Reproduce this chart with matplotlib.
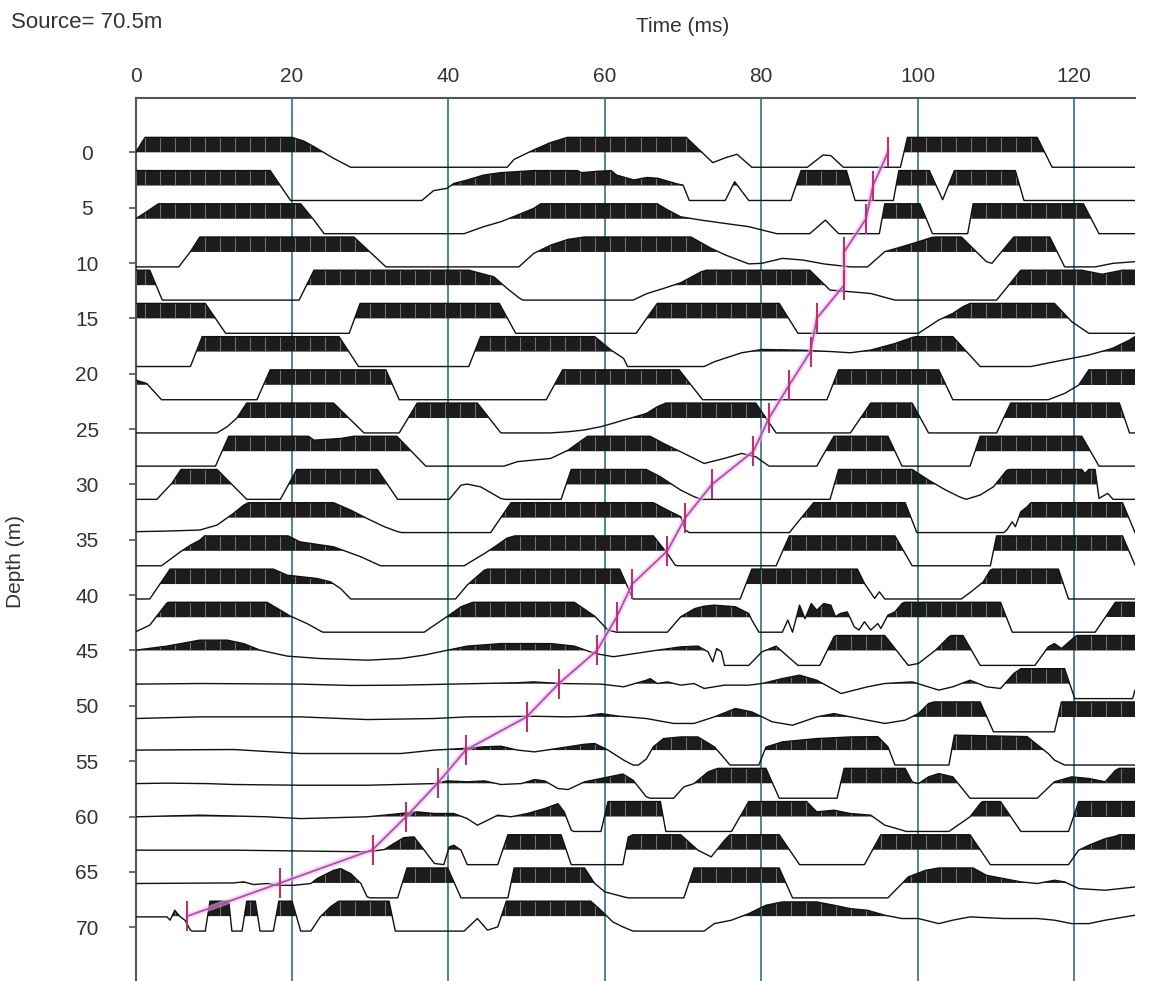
import numpy as np
import matplotlib.pyplot as plt
from matplotlib.path import Path

plt.rcParams['font.family'] = ['Liberation Sans', 'DejaVu Sans']

# receiver depths (m) of the 24 traces
depths = [0, 3, 6, 9, 12, 15, 18, 21, 24, 27, 30, 33,
          36, 39, 42, 45, 48, 51, 54, 57, 60, 63, 66, 69]

# trace vertices: (time ms, normalised amplitude, clipped to +-1)
trace_d00 = [(0, 0), (1.2, 1), (20, 1), (21.5, 0.75), (22.8, 0.38), (25.3, -0.4), (27.5, -1), (47.5, -1),
             (48.4, -0.47), (50.9, 0.16), (53, 0.64), (55.2, 1), (70.4, 1), (73.8, -0.69), (75.5, -0.35),
             (76.9, -0.13), (78.8, -1), (85.9, -1), (87.9, -0.18), (88.9, -0.22), (90.5, -1), (97.8, -1),
             (98.7, 1), (115.3, 1), (117.2, -1), (127.8, -1)]
trace_d03 = [(0, 1), (17.2, 1), (19.8, -1), (36.6, -1), (38.1, -0.34), (39.8, -0.19), (40.7, 0.14),
             (42.4, 0.37), (44.5, 0.7), (46.7, 0.86), (50.9, 1), (56.5, 1), (57, 0.86), (59, 0.95),
             (60.8, 1), (61.5, 0.7), (63.7, 0.37), (65.4, 0.54), (66.8, 0.48), (69.3, 0.1), (70, 0.03),
             (70.8, -1), (75.4, -1), (76.6, 0.26), (78.4, -1), (83.8, -1), (85.1, 1), (90.9, 1), (92, -1),
             (96.9, -1), (97.6, 1), (101.5, 1), (103.2, -0.95), (104.7, 1), (112.5, 1), (113.6, -1),
             (127.8, -1)]
trace_d06 = [(0, 0), (1.4, 0.47), (2.9, 1), (21.1, 1), (22.8, -0.09), (24.1, -1), (42, -1), (44.5, -0.53),
             (46.7, -0.2), (48.8, 0.24), (50.9, 0.69), (51.8, 1), (66.7, 1), (68, 0.6), (69.7, 0.13),
             (72.3, -0.09), (75.3, -0.31), (78.4, -0.53), (81, -0.87), (82, -1), (86.2, -1), (88.2, -0.09),
             (89.9, -1), (95.1, -1), (95.8, 1), (100.3, 1), (101.9, -1), (106.4, -1), (107.1, 1),
             (121.2, 1), (123.2, -1), (127.8, -1)]
trace_d09 = [(0, -1), (5.5, -1), (7, 0.02), (8.2, 1), (27.9, 1), (32, -1), (49, -1), (50.9, -0.1),
             (53.1, 0.46), (55.3, 0.84), (57.4, 1), (71, 1), (73.6, 0.24), (75.4, -0.2), (78.4, -0.8),
             (80.1, -0.76), (82.7, -0.43), (85.3, -0.54), (88, -0.8), (91.4, -1), (93.6, -1), (95.8, 0.02),
             (98, 0.35), (100.1, 0.68), (101.8, 0.97), (102.3, 1), (105.6, 1), (108.8, -0.65),
             (109.5, -0.76), (112.3, 1), (116.9, 1), (118.8, -1), (122.7, -1), (125, -0.76), (127.8, -0.65)]
trace_d12 = [(0, 1), (1.8, 1), (3.4, -1), (20.9, -1), (22.8, 1), (42.6, 1), (45.8, 0.56), (47.5, -0.22),
             (49, -0.84), (49.5, -1), (63.6, -1), (65.4, -0.56), (67.5, -0.22), (69.7, 0.16), (72.3, 0.89),
             (73, 1), (86.2, 1), (88.8, -0.33), (91.4, -0.44), (94, -0.56), (97.1, -1), (110.1, -1),
             (113.2, 1), (121, 1), (123.6, 0.73), (126.2, 1), (127.8, 1)]
trace_d15 = [(0, 1), (8.9, 1), (11.5, -1), (27.3, -1), (28.7, 1), (46.5, 1), (48.6, -1), (64, -1),
             (66.7, 1), (82.3, 1), (84.7, -1), (100.1, -1), (102.7, -0.11), (104.5, 0.33), (105.8, 0.78),
             (106.7, 1), (117.5, 1), (119.7, -0.22), (121.9, -1), (127.8, -1)]
trace_d18 = [(0, -1), (7, -1), (8.5, 1), (26, 1), (28.5, -1), (42.6, -1), (44.1, 1), (58.7, 1), (60.8, 0.1),
             (62.4, -0.46), (62.9, -1), (72.7, -1), (74, -0.68), (77.5, -0.08), (80.1, 0.14), (84.9, 0.1),
             (89.3, -0.01), (91.4, -0.08), (94, 0.1), (97.1, 0.54), (99.3, 0.94), (99.8, 1), (104.5, 1),
             (108, -1), (114.5, -1), (117.5, -0.68), (121.9, -0.23), (124.9, 0.21), (127.1, 0.77),
             (127.8, 1)]
trace_d21 = [(0, 0.31), (1.4, 0.09), (3.3, -1), (15.5, -1), (17.2, 1), (32, 1), (33.7, -1), (52.5, -1),
             (54.6, 1), (69.5, 1), (72.5, -1), (88.4, -1), (89.9, 1), (102.7, 1), (104.5, -1), (116.7, -1),
             (118.8, -0.58), (120.6, -0.02), (121.9, 1), (127.8, 1)]
trace_d24 = [(0, -1), (10.4, -1), (11.7, -0.58), (12.9, -0.03), (14.2, 1), (25.3, 1), (29.2, -1),
             (33.7, -1), (36, 1), (43.7, 1), (46.7, -1), (53, -1), (55.3, -0.92), (57.4, -0.8),
             (59.5, -0.58), (61, -0.36), (62.4, -0.14), (63.6, 0.04), (65.3, 0.3), (66.7, 0.75), (67.8, 1),
             (79.3, 1), (81.9, -1), (91.4, -1), (94, 1), (99.3, 1), (101.4, -1), (110.1, -1), (111.9, 1),
             (125.8, 1), (127.1, -1), (127.8, -1)]
trace_d27 = [(0, -1), (10.2, -1), (11.9, 1), (22.1, 1), (22.8, 0.74), (26.2, 0.85), (27.9, 1), (33.4, 1),
             (37.1, -1), (47.1, -1), (48.8, -0.7), (53.1, -0.48), (55.3, 0.07), (56.5, 0.52), (57.8, 1),
             (65.8, 1), (67.5, 0.52), (69.7, -0.04), (72.7, -0.82), (75.3, -0.48), (77.5, -0.15),
             (79.3, -0.37), (81, -1), (87.1, -1), (89.3, 1), (96.2, 1), (98, -1), (106.7, -1), (108, 1),
             (121, 1), (123.2, -1), (127.8, -1)]
trace_d30 = [(0, -1), (2.7, -1), (4.6, 0.06), (5.8, 1), (10.4, 1), (14.2, -1), (18.5, -1), (20.6, 1),
             (30.9, 1), (33.5, -1), (40.1, -1), (41.6, -0.05), (42.4, 0.02), (44.1, -0.16), (46.7, -0.94),
             (47.2, -1), (54.4, -1), (55.7, 1), (65.3, 1), (67.1, 0.51), (69.7, -0.38), (71.4, -0.82),
             (72.3, -1), (88.8, -1), (89.9, 1), (99.3, 1), (101.4, 0.29), (103.6, -0.38), (105.3, -0.82),
             (106.2, -1), (108, -0.71), (109.7, -0.16), (111.4, 0.95), (111.8, 1), (121, 1), (121.4, 0.73),
             (121.9, 1), (122.7, 1), (123.2, -0.94), (124.3, -0.6), (125, -1), (127.8, -1)]
trace_d33 = [(0, -0.94), (4, -0.9), (8.2, -0.83), (10.4, -0.5), (12.5, 0.28), (13.8, 0.83), (14.4, 1),
             (25.3, 1), (27.5, 0.5), (29.6, -0.06), (31.8, -0.61), (33.5, -0.94), (34, -1), (45.4, -1),
             (48, 1), (66.2, 1), (68, 0.5), (69.7, 0.06), (70.3, -0.83), (70.8, -1), (83.6, -1), (86.7, 1),
             (98.4, 1), (99.9, -1), (111, -1), (111.4, -0.83), (112.1, -0.28), (112.5, -0.61),
             (113.2, 0.39), (114, 0.72), (114.5, 1), (126.2, 1), (127.8, -1)]
trace_d36 = [(0, -1), (3.3, -1), (4, -0.73), (5.7, -0.07), (7, 0.38), (8.2, 0.71), (8.8, 1), (19.5, 1),
             (21, 0.6), (25.3, 0.27), (28.8, -0.4), (31.3, -1), (42, -1), (44.6, -0.18), (46, 0.3),
             (47.5, 0.85), (48.5, 1), (66.2, 1), (68, -0.18), (69, -0.96), (69.3, -1), (81.9, -1),
             (83.6, 1), (97.1, 1), (99.3, -1), (109.3, -1), (110.1, 1), (126.2, 1), (127.8, -0.96)]
trace_d39 = [(0, -1), (1.8, -1), (4.4, 1), (17.6, 1), (19.4, 0.59), (23.2, 0.37), (24.9, 0.15),
             (26.2, -0.3), (27.5, -1), (40.9, -1), (42.4, -0.07), (44.6, 0.93), (45, 1), (61.9, 1),
             (63.6, -1), (77.3, -1), (78.8, 1), (92.3, 1), (93.2, 0.04), (94.5, -0.96), (95.1, -0.52),
             (95.8, -1), (105.6, -1), (107.1, -0.41), (108.4, 0.15), (109.3, 0.93), (109.6, 1), (118, 1),
             (119.3, -1), (127.8, -1)]
trace_d42 = [(0, -0.97), (1.8, -0.53), (4, 0.96), (4.2, 1), (16.8, 1), (19.8, 0.07), (21.9, -0.42),
             (23.8, -0.97), (24, -1), (36.9, -1), (38.2, -0.53), (39.9, 0.07), (41.6, 0.7), (42.9, 0.96),
             (43.2, 1), (56.1, 1), (58.7, 0.07), (60.4, -0.86), (61.5, -1), (68, -1), (69.7, 0.03),
             (71.5, 0.58), (72.7, 0.74), (74, 0.81), (76.7, 0.7), (78.4, 0.25), (78.8, -0.19), (79.7, -1),
             (82.7, -1), (83.4, -0.19), (84, -1), (84.9, 0.81), (85.6, -0.1), (86.4, 0.92), (87.1, 0.47),
             (88, 0.92), (88.9, 0.81), (89.5, 0.03), (90.1, 0.25), (91, 0.36), (91.9, -0.64),
             (92.5, -0.86), (93.2, -0.3), (94, -0.86), (94.9, -0.42), (95.3, -0.75), (96.2, 0.14),
             (97.1, 0.36), (98, 0.92), (98.3, 1), (110.6, 1), (112.1, -1), (122.7, -1), (125.3, 1),
             (127.8, 1)]
trace_d45 = [(0, 0.02), (4, 0.29), (8.2, 0.69), (11.7, 0.69), (13.8, 0.46), (15.9, 0.02), (19.4, -0.38),
             (23.6, -0.54), (29.6, -0.65), (33.9, -0.54), (36.9, -0.31), (39.9, 0.02), (42.4, 0.29),
             (46.7, 0.46), (53.1, 0.46), (56.1, 0.29), (58.7, -0.2), (61.1, -0.42), (65.3, -0.09),
             (69.7, 0.24), (71.9, 0.29), (73.2, -0.09), (73.8, -0.76), (74.3, 0.13), (74.9, -0.09),
             (75.3, -1), (78.4, -1), (80.1, -0.09), (81.9, 0.29), (83.2, -0.31), (84.7, -1), (87.5, -1),
             (89.3, 0.91), (89.6, 1), (95.8, 1), (98.8, -1), (100.1, -0.87), (102.3, 0.02), (104, 0.91),
             (104.3, 1), (105.8, 1), (108, -1), (115, -1), (116.7, 0.24), (117.5, 0.46), (118.4, 0.13),
             (120.1, 0.91), (120.4, 1), (127.8, 1)]
trace_d48 = [(0, -0.03), (8.2, 0.01), (21.1, -0.03), (27.5, -0.12), (33.9, -0.1), (40.3, -0.03),
             (48.8, 0.06), (50.9, 0.12), (52.7, 0.06), (54.4, 0.01), (59.5, -0.03), (62.4, -0.21),
             (65.3, 0.23), (65.8, 0.34), (66.7, 0.01), (68, 0.12), (69.7, -0.1), (71.4, 0.01),
             (72.7, -0.32), (75.3, -0.1), (78.4, -0.1), (80.1, 0.01), (82.7, 0.34), (84.9, 0.57),
             (87.1, 0.23), (90.2, -0.66), (93.6, -0.21), (95.8, 0.01), (99.3, 0.12), (102.7, -0.43),
             (104.5, -0.21), (106.7, 0.23), (108.8, -0.21), (110.6, -0.32), (112.3, 0.68), (113.2, 1),
             (118.8, 1), (120.1, -1), (127.5, -1), (127.8, -0.43)]
trace_d51 = [(0, -0.11), (8.2, 0), (21.1, 0), (29.6, -0.18), (38.2, -0.11), (42.4, 0), (51, 0.04),
             (55.3, 0), (57.4, 0.04), (59.5, 0.22), (61.7, 0.05), (65.3, -0.11), (68.8, -0.44),
             (71.4, -0.44), (74, 0), (76.7, 0.56), (78.8, 0.33), (81.4, -0.33), (84, -0.56), (87.1, 0),
             (89.3, 0.22), (91.4, 0), (95.8, -0.44), (98.4, -0.22), (100.1, 0.22), (101.4, 0.89),
             (102.1, 1), (108, 1), (109.7, -1), (117.5, -1), (118.4, 1), (127.8, 1)]
trace_d54 = [(0, 0), (12.5, 0.04), (21.1, -0.23), (33.9, -0.23), (38.2, 0), (41.6, 0.1), (44.6, 0.22),
             (46.7, 0.26), (48.8, 0), (51, -0.12), (55.3, 0.22), (57.4, 0.39), (58.7, 0.44), (60.4, 0),
             (62.4, -0.67), (63.6, -1), (64.3, -1), (65.3, -0.6), (66.2, 0.22), (67.5, 0.77), (69.7, 0.88),
             (71.9, 0.88), (74, 0.22), (75.3, -0.56), (76, -1), (79.7, -1), (80.6, 0.2), (82.7, 0.55),
             (87.1, 0.77), (91.4, 0.88), (94.9, 0.9), (96.2, 0.22), (97.1, -1), (104, -1), (104.7, 1),
             (114, 0.9), (116.7, -0.23), (117.5, -0.67), (118.8, -1), (127.8, -1)]
trace_d57 = [(0, -0.02), (4, 0.01), (9.1, -0.02), (12.5, -0.08), (21.1, -0.13), (29.6, -0.13),
             (38.2, -0.02), (39.9, 0.16), (42.4, 0.1), (44.6, 0.16), (46.7, -0.08), (49.3, -0.02),
             (51, 0.25), (52.3, 0.16), (54, -0.35), (55.3, -0.42), (57.4, 0.1), (59.5, 0.32), (62.3, 0.62),
             (63.6, 0.21), (65.3, -0.9), (65.8, -1), (68.8, -1), (70.1, -0.24), (71.4, -0.02), (73.2, 0.76),
             (74, 0.92), (74.5, 1), (80.6, 1), (82.3, -1), (89.7, -1), (90.6, 1), (98.4, 1), (99.3, 0.1),
             (100.1, -0.02), (101.4, 0.43), (102.7, 0.65), (104.5, 0.43), (106.7, -1), (115.3, -1),
             (117.5, 0.1), (119.7, 0.43), (121.9, 0.32), (124, 0.1), (125.3, 0.87), (125.8, 1), (127.8, 1)]
trace_d60 = [(0, -0.02), (8.2, 0.09), (16.8, -0.02), (21.1, -0.14), (29.6, -0.02), (31.8, 0.09),
             (33.9, 0.2), (36, 0.31), (38.2, 0.2), (40.7, 0.2), (42.4, -0.14), (43.7, -0.58), (45, -0.25),
             (46.3, 0.09), (48, -0.02), (50.1, 0.2), (52.3, 0.53), (54, 0.86), (54.8, 0.31), (55.7, -0.91),
             (56, -1), (59.5, -1), (60.4, 1), (67.1, 1), (67.8, -1), (76.2, -1), (78.4, 1), (85.8, 1),
             (87.1, 0.31), (89.3, 0.42), (91.4, 0.2), (94, 0.09), (95.8, -0.58), (98, -0.91), (98.5, -1),
             (104, -1), (106.7, -0.02), (108, 0.86), (108.3, 1), (110.6, 1), (113.2, -1), (119.3, -1),
             (120.6, 1), (127.8, 1)]
trace_d63 = [(0, -0.03), (12.5, -0.03), (29.6, -0.14), (31.8, 0.01), (33, 0.41), (34.3, 0.81),
             (35.6, 0.86), (36.9, -0.03), (38.2, -0.92), (39.4, -1), (40.1, 0.19), (40.7, 0.3),
             (41.6, -0.03), (42.4, -1), (46.3, -1), (47.6, 1), (54.4, 1), (55.7, -1), (62.3, -1),
             (63, 0.86), (63.6, 1), (69.7, 1), (71.9, -0.03), (73.6, -0.48), (75.3, 0.63), (76, 1),
             (82.3, 1), (84.9, -1), (93.2, -1), (95.3, 1), (106.7, 1), (109.3, -1), (119.3, -1),
             (120.6, -0.03), (121.9, 0.3), (124, 0.74), (125.3, 0.9), (125.8, 1), (127.8, 1)]
trace_d66 = [(0, -0.04), (12.5, 0), (13.8, 0.07), (15.1, -0.11), (16.8, -0.04), (18.1, -0.16),
             (20.2, -0.16), (22.4, -0.04), (23.2, 0.29), (25.3, 0.84), (26.2, 0.96), (27.5, 0.62),
             (28.8, -0.04), (29.6, -0.93), (30, -1), (33.5, -1), (34.7, 1), (39.9, 1), (41.6, -1),
             (47.6, -1), (48.4, 1), (57.4, 1), (58.7, -0.04), (60, -0.6), (62.4, -0.93), (63, -1),
             (70.1, -1), (71.4, 1), (82.3, 1), (84, -1), (96.2, -1), (98, -0.04), (98.8, 0.4), (101, 0.84),
             (102.7, 1), (107.1, 1), (108.8, 0.51), (111, 0.29), (113.2, 0.07), (115.3, -0.04),
             (117.5, 0.18), (118.8, 0.07), (120.6, -0.38), (124, -0.49), (127.8, -0.27)]
trace_d69 = [(0, -0.05), (4, -0.05), (4.4, -0.27), (5, 0.39), (5.7, -0.05), (6.3, -0.27), (7, -0.94),
             (7.2, -1), (8.9, -1), (9.5, 1), (11.9, 1), (12.3, -1), (13.6, -1), (14.2, 1), (15.3, 1),
             (15.9, -1), (17.6, -1), (18.3, 1), (20, 1), (21.1, -1), (22.4, -1), (23.6, -0.05),
             (24.9, 0.62), (25.8, 0.95), (26, 1), (32.4, 1), (33.2, -1), (42, -1), (43.7, -0.16),
             (45, -0.94), (46.3, -0.72), (47.4, 1), (58.2, 1), (59.5, 0.39), (61, -0.38), (62.3, -0.72),
             (63.6, -1), (72.7, -1), (74, -0.5), (76.2, -0.27), (78.4, 0.17), (80.6, 0.73), (82.7, 0.95),
             (87.1, 0.95), (89.3, 0.73), (91.4, 0.5), (93.6, 0.39), (95.8, 0.06), (98, -0.16),
             (100.1, -0.16), (102.7, -0.5), (104.5, -0.27), (106.7, -0.05), (111, -0.16), (115.3, -0.16),
             (117.5, -0.27), (119.7, -0.5), (121.9, -0.5), (124, -0.27), (127.8, 0.06)]

traces = [trace_d00, trace_d03, trace_d06, trace_d09, trace_d12, trace_d15, trace_d18, trace_d21,
          trace_d24, trace_d27, trace_d30, trace_d33, trace_d36, trace_d39, trace_d42, trace_d45,
          trace_d48, trace_d51, trace_d54, trace_d57, trace_d60, trace_d63, trace_d66, trace_d69]

# first-break picks
pick_depth = [0, 3, 6, 9, 12, 15, 18, 21, 24, 27, 30, 33, 36, 39, 42, 45, 48, 51, 54, 57, 60, 63, 66, 69]
pick_time = [96.2, 94.3, 93.4, 90.6, 90.6, 87.1, 86.3, 83.6, 81.0, 79.0, 73.7, 70.3,
             68.0, 63.5, 61.5, 59.0, 54.1, 50.0, 42.2, 38.6, 34.6, 30.3, 18.5, 6.6]

time_ticks = [0, 20, 40, 60, 80, 100, 120]
depth_ticks = [0, 5, 10, 15, 20, 25, 30, 35, 40, 45, 50, 55, 60, 65, 70]

AMP = 1.35          # clip level in depth units
W, H = 1156, 981

fig = plt.figure(figsize=(W / 100, H / 100), dpi=100)
ax = fig.add_axes([135.7 / W, 0, (1135 - 135.7) / W, (H - 98.3) / H])
ax.set_xlim(0, 127.8)
ax.set_ylim(74.86, -4.88)

for x in time_ticks[1:]:
    ax.axvline(x, color='#3d7d95', lw=1.3, zorder=1)

stripe_t = np.arange(1.2, 128, 1.92)
for d, verts in zip(depths, traces):
    t = np.array([v[0] for v in verts], dtype=float)
    a = np.array([v[1] for v in verts], dtype=float)
    y = d - a * AMP
    poly = ax.fill_between(t, d, y, where=y < d, interpolate=True,
                           color='#1c1c1c', lw=0, zorder=2)
    paths = poly.get_paths()
    if paths:
        st = ax.vlines(stripe_t, d - AMP - 0.2, d, colors='#707070', lw=0.8, zorder=3)
        st.set_clip_path(Path.make_compound_path(*paths), ax.transData)
    ax.plot(t, y, color='#111111', lw=1.0, zorder=4)

# picked arrival line
ax.plot(pick_time, pick_depth, color='#f2b6ea', lw=4, alpha=0.55, zorder=5,
        solid_capstyle='round')
ax.plot(pick_time, pick_depth, color='#b24cb4', lw=1.3, zorder=6)
ax.plot(pick_time, pick_depth, ls='none', marker='|', ms=22, mew=1.5,
        color='#c2306c', zorder=7)

ax.xaxis.tick_top()
ax.set_xticks(time_ticks)
ax.tick_params(axis='x', length=0, pad=8.5, labelsize=15, labelcolor='#333333')
ax.set_yticks(depth_ticks)
ax.tick_params(axis='y', length=5, width=1.2, pad=30, labelsize=15,
               color='#555555', labelcolor='#333333')
for lbl in ax.get_yticklabels():
    lbl.set_horizontalalignment('center')

for side in ('right', 'bottom'):
    ax.spines[side].set_visible(False)
for side in ('left', 'top'):
    ax.spines[side].set_color('#555555')
    ax.spines[side].set_linewidth(1.5)

fig.text(11 / W, 1 - 23 / H, 'Source= 70.5m', fontsize=16, color='#333333',
         ha='left', va='center')
fig.text(683 / W, 1 - 27 / H, 'Time (ms)', fontsize=15, color='#333333',
         ha='center', va='center')
fig.text(16 / W, 1 - 561 / H, 'Depth (m)', fontsize=15, color='#333333',
         ha='center', va='center', rotation=90)

fig.savefig('out.png', dpi=100)
